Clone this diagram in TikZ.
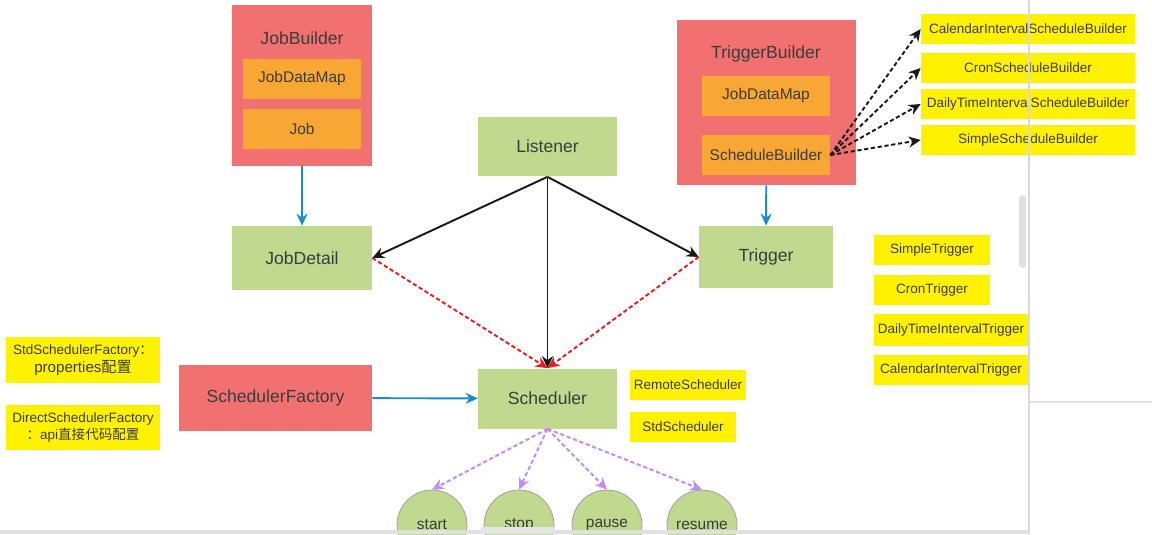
\documentclass[tikz,border=0pt]{standalone}
\usepackage{fontspec}
\setmainfont{Liberation Sans}
\newfontfamily\cjk{Noto Sans CJK SC}
\usetikzlibrary{arrows.meta, positioning, calc}
\definecolor{builderred}{RGB}{241,113,113}
\definecolor{partorange}{RGB}{248,166,52}
\definecolor{compgreen}{RGB}{193,216,143}
\definecolor{noteyellow}{RGB}{255,242,0}
\definecolor{flowblue}{RGB}{25,140,205}
\definecolor{actpurple}{RGB}{196,136,250}
\definecolor{linkred}{RGB}{228,30,30}
\definecolor{ink}{RGB}{60,60,60}

\begin{document}
\begin{tikzpicture}[
  x=0.02cm, y=-0.02cm, font=\fontsize{10}{12}\selectfont, text=ink,
  >={Stealth[length=2.4mm, width=2.2mm]},
  builder/.style={fill=builderred, inner sep=0pt},
  part/.style={fill=partorange, minimum width=2.36cm, minimum height=0.8cm,
               inner sep=1pt, font=\fontsize{8.8}{10}\selectfont},
  comp/.style={fill=compgreen, minimum width=2.78cm, minimum height=1.2cm, inner sep=1pt},
  note/.style={fill=noteyellow, minimum height=0.6cm, align=center, inner sep=1pt,
               font=\fontsize{7.7}{10}\selectfont},
  act/.style={circle, draw=black!40, fill=compgreen, minimum size=1.4cm, inner sep=0pt,
              font=\fontsize{8.8}{10}\selectfont},
  flow/.style={->, flowblue, line width=1.1pt},
  link/.style={->, black!90, line width=1.1pt},
  dep/.style={->, linkred, line width=1.1pt, dash pattern=on 2.4pt off 1.5pt},
  kind/.style={->, black!90, line width=1.1pt, dash pattern=on 2.4pt off 1.5pt},
  call/.style={->, actpurple, line width=1.1pt, dash pattern=on 2.4pt off 1.5pt},
]
  \useasboundingbox (0,0) rectangle (1152,534);
  \clip (0,0) rectangle (1152,534);

  \node[builder, minimum width=2.8cm, minimum height=3.22cm] (jb) at (302,85.5) {};
  \node (jbt) at (302,38) {JobBuilder};
  \node[part] (jbmap) at (302,79) {JobDataMap};
  \node[part] (jbjob) at (302,129) {Job};
  \node[comp, minimum width=2.8cm, minimum height=1.28cm] (jd) at (302,258) {JobDetail};

  \node[comp] (lis) at (547.5,146.5) {Listener};

  \node[builder, minimum width=3.58cm, minimum height=3.3cm] (tb) at (766.5,102.5) {};
  \node (tbt) at (766,54) {TriggerBuilder};
  \node[part, minimum width=2.56cm] (tbmap) at (766,96) {JobDataMap};
  \node[part, minimum width=2.56cm] (tbsb) at (766,155) {ScheduleBuilder};
  \node[comp, minimum width=2.68cm, minimum height=1.24cm] (tr) at (766,257) {Trigger};

  \node[note, minimum width=4.28cm] (cisb) at (1028,29) {CalendarIntervalScheduleBuilder};
  \node[note, minimum width=4.28cm] (crsb) at (1028,68) {CronScheduleBuilder};
  \node[note, minimum width=4.28cm] (dtsb) at (1028,104) {DailyTimeIntervalScheduleBuilder};
  \node[note, minimum width=4.28cm] (smsb) at (1028,140) {SimpleScheduleBuilder};

  \node[note, minimum width=2.32cm] (smt) at (932,250) {SimpleTrigger};
  \node[note, minimum width=2.32cm] (crt) at (932,290) {CronTrigger};
  \node[note, minimum width=3.08cm, minimum height=0.64cm] (dtt) at (951,330) {DailyTimeIntervalTrigger};
  \node[note, minimum width=3.08cm] (cit) at (951,369.5) {CalendarIntervalTrigger};

  \node[note, minimum width=3.08cm, minimum height=0.92cm] (stdf) at (83,360)
    {StdSchedulerFactory{\cjk ：}\\ {\fontsize{8.6}{10}\selectfont properties{\cjk 配置}}};
  \node[note, minimum width=3.08cm, minimum height=0.9cm] (dirf) at (83,427.5)
    {DirectSchedulerFactory\\ {\cjk ：}api{\cjk 直接代码配置}};

  \node[builder, minimum width=3.86cm, minimum height=1.32cm] (sf) at (275.5,398) {SchedulerFactory};
  \node[comp] (sc) at (547.5,398.5) {Scheduler};
  \node[note, minimum width=2.32cm] (rs) at (688,385) {RemoteScheduler};
  \node[note, minimum width=2.12cm] (ss) at (683,427) {StdScheduler};

  \node[act] (start) at (432,525) {start};
  \node[act] (stop) at (519,525) {stop};
  \node[act] (pause) at (607,525) {pause};
  \node[act] (resume) at (702,525) {resume};

  \draw[flow] (jb) -- (jd); \draw[flow] (tb) -- (tr); \draw[flow] (sf) -- (sc);
  \draw[link] (lis.south) -- (jd.east); \draw[link] (lis.south) -- (tr.west);
  \draw[link] (lis.south) -- (sc.north);
  \draw[dep] (jd.east) -- (sc.north); \draw[dep] (tr.west) -- (sc.north);
  \foreach \n in {cisb, crsb, dtsb, smsb} \draw[kind] (tbsb.east) -- (\n.west);
  \foreach \n in {start, stop, pause, resume} \draw[call] (sc.south) -- (\n.north);

  \draw[black!15, line width=1pt] (1029,0) -- (1029,534);
  \draw[black!12, line width=1pt] (1029,402) -- (1152,402);
  \fill[black!12] (0,530) rectangle (1029,534);
  \fill[black!10] (481,527) rectangle (555,534);
  \fill[black!12, rounded corners=2pt] (1019,195) rectangle (1026,268);
\end{tikzpicture}
\end{document}
